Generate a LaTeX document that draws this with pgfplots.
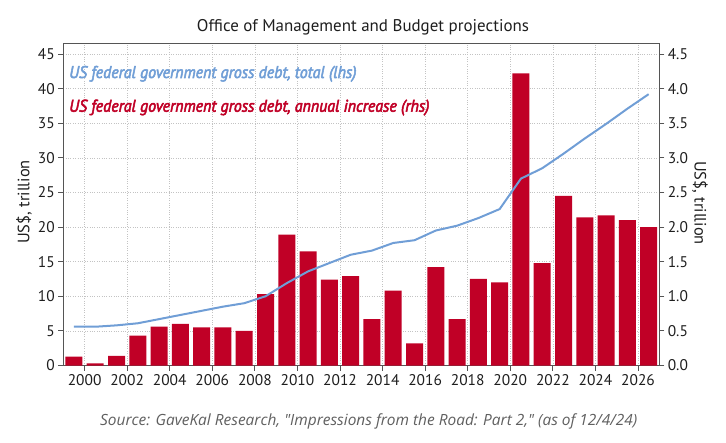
\documentclass[border=0pt]{standalone}
\usepackage{pgfplots}
\pgfplotsset{compat=1.18}
\usepackage{pgfplotstable}
\usepackage{fontspec}
\setmainfont{PT Sans}
\newfontfamily\legfont{PT Sans}[FakeStretch=0.94, FakeBold=3]
\newfontfamily\srcfont{Open Sans}
\definecolor{barred}{RGB}{192,0,38}
\definecolor{lineblue}{RGB}{112,158,214}
\definecolor{framegray}{RGB}{85,85,85}
\definecolor{gridgray}{RGB}{195,195,195}
\definecolor{srcgray}{RGB}{95,95,95}
\definecolor{txt}{RGB}{30,30,30}

\pgfplotstableread{
x inc
1999.5 0.13
2000.5 0.03
2001.5 0.14
2002.5 0.43
2003.5 0.56
2004.5 0.60
2005.5 0.55
2006.5 0.55
2007.5 0.50
2008.5 1.03
2009.5 1.89
2010.5 1.65
2011.5 1.24
2012.5 1.29
2013.5 0.67
2014.5 1.08
2015.5 0.32
2016.5 1.42
2017.5 0.67
2018.5 1.25
2019.5 1.20
2020.5 4.22
2021.5 1.48
2022.5 2.45
2023.5 2.14
2024.5 2.17
2025.5 2.10
2026.5 2.00
}\incdata

\pgfplotstableread{
x total
1999.5 5.6
2000.5 5.6
2001.5 5.8
2002.5 6.1
2003.5 6.7
2004.5 7.3
2005.5 7.9
2006.5 8.5
2007.5 9.0
2008.5 10.0
2009.5 11.9
2010.5 13.6
2011.5 14.8
2012.5 16.0
2013.5 16.6
2014.5 17.7
2015.5 18.1
2016.5 19.5
2017.5 20.2
2018.5 21.3
2019.5 22.6
2020.5 27.0
2021.5 28.5
2022.5 30.6
2023.5 32.8
2024.5 34.9
2025.5 37.1
2026.5 39.2
}\totdata

\begin{document}
\begin{tikzpicture}
\useasboundingbox (-63.3bp,-77.5bp) rectangle (662.7bp,365.5bp);
\pgfplotsset{
  common/.style={
    at={(0,0)}, anchor=south west,
    scale only axis, width=596bp, height=322.2bp,
    xmin=1999, xmax=2027, ymin=0,
    tick align=outside, major tick length=5bp,
    tick style={framegray, line width=0.8bp},
    axis line style={framegray, line width=1.3bp},
    ticklabel style={font=\fontsize{15.5}{15.5}\selectfont, text=txt},
    /pgf/number format/assume math mode=true,
  }
}
\begin{axis}[common,
  ymax=4.655,
  xtick={2000,2002,2004,2006,2008,2010,2012,2014,2016,2018,2020,2022,2024,2026},
  xtick pos=bottom,
  xticklabel style={/pgf/number format/1000 sep={}},
  ytick={0,0.5,1,1.5,2,2.5,3,3.5,4,4.5},
  ytick pos=right, yticklabel pos=right,
  yticklabel style={/pgf/number format/.cd, fixed, fixed zerofill, precision=1},
  grid=major, grid style={gridgray, dotted, line width=0.7bp},
]
\addplot[ybar, bar width=17bp, fill=barred, draw=none] table[x=x,y=inc]{\incdata};
\end{axis}
\begin{axis}[common,
  ymax=46.55,
  axis x line=none, axis y line*=left,
  ytick={0,5,10,15,20,25,30,35,40,45},
]
\addplot[lineblue, line width=2bp, no marks] table[x=x,y=total]{\totdata};
\end{axis}
\node[anchor=base, inner sep=0, text=txt] at (299.7bp,333.8bp) {\fontsize{17}{17}\selectfont Office of Management and Budget projections};
\node[anchor=base west, inner sep=0, text=lineblue] at (5.7bp,287.5bp) {\legfont\itshape\fontsize{17}{17}\selectfont US federal government gross debt, total (lhs)};
\node[anchor=base west, inner sep=0, text=barred] at (5.7bp,253.8bp) {\legfont\itshape\fontsize{17}{17}\selectfont US federal government gross debt, annual increase (rhs)};
\node[rotate=90, inner sep=0, text=txt] at (-39.3bp,163.5bp) {\fontsize{16.5}{16.5}\selectfont US\$, trillion};
\node[rotate=-90, inner sep=0, text=txt] at (636.7bp,162.5bp) {\fontsize{16.5}{16.5}\selectfont US\$, trillion};
\node[anchor=base west, inner sep=0, text=srcgray] at (36.7bp,-59.5bp) {\srcfont\itshape\fontsize{15.5}{15.5}\selectfont Source: GaveKal Research, "Impressions from the Road: Part 2," (as of 12/4/24)};
\end{tikzpicture}
\end{document}
